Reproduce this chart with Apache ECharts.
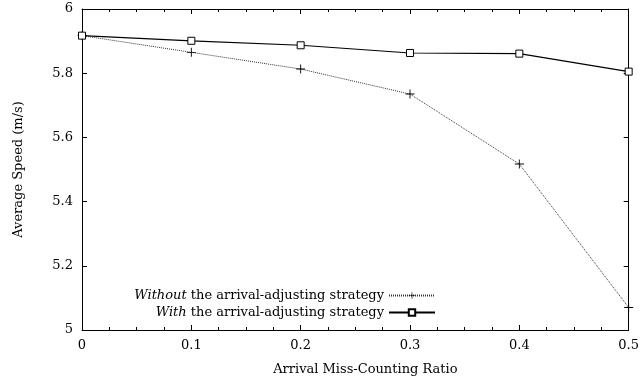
<!DOCTYPE html>
<html><head><meta charset="utf-8">
<script src="https://cdn.jsdelivr.net/npm/echarts@6/dist/echarts.min.js"></script>
<style>html,body{margin:0;padding:0;background:#fff}#c{width:642px;height:381px}</style>
</head><body><div id="c"></div>
<script>
const xValues = [0, 0.1, 0.2, 0.3, 0.4, 0.5];
const withoutVals = [5.917, 5.865, 5.813, 5.735, 5.517, 5.07];
const withVals = [5.917, 5.901, 5.887, 5.863, 5.861, 5.805];
const xTitle = 'Arrival Miss-Counting Ratio';
const yTitle = 'Average Speed (m/s)';

const FONT = 'DejaVu Serif';
const FS = 13;
const chart = echarts.init(document.getElementById('c'), null, {renderer: 'canvas'});
const plus = 'path://M4.5,0h1v10h-1zM0,4.5h10v1h-10z';
const axisCommon = {
  axisLine: {show: true, onZero: false, lineStyle: {color: '#000', width: 1}},
  axisTick: {show: true, inside: true, length: 5, lineStyle: {color: '#000'}},
  splitLine: {show: false}
};
const legendText = {fontFamily: FONT, fontSize: FS, color: '#000',
  rich: {i: {fontStyle: 'italic', fontFamily: FONT, fontSize: FS, color: '#000'}}};
chart.setOption({
  animation: false,
  textStyle: {fontFamily: FONT},
  grid: {left: 82, right: 10, top: 9, bottom: 51},
  xAxis: [
    Object.assign({}, axisCommon, {type: 'value', min: 0, max: 0.5, interval: 0.1,
      name: xTitle, nameLocation: 'middle', nameGap: 33,
      nameTextStyle: {fontFamily: FONT, fontSize: FS, color: '#000', padding: [0, 0, 0, 20]},
      minorTick: {show: true, splitNumber: 4, length: 3, lineStyle: {color: '#000'}},
      axisLabel: {fontFamily: FONT, fontSize: FS, color: '#000', margin: 9}}),
    Object.assign({}, axisCommon, {type: 'value', position: 'top', min: 0, max: 0.5, interval: 0.1,
      minorTick: {show: true, splitNumber: 4, length: 3, lineStyle: {color: '#000'}},
      axisLabel: {show: false}})
  ],
  yAxis: [
    Object.assign({}, axisCommon, {type: 'value', min: 5, max: 6, interval: 0.2,
      name: yTitle, nameLocation: 'middle', nameGap: 57, nameRotate: 90,
      nameTextStyle: {fontFamily: FONT, fontSize: FS, color: '#000'},
      axisLabel: {fontFamily: FONT, fontSize: FS, color: '#000', margin: 9}}),
    Object.assign({}, axisCommon, {type: 'value', position: 'right', min: 5, max: 6, interval: 0.2,
      axisLabel: {show: false}})
  ],
  legend: [
    {data: ['Without'], orient: 'vertical', right: 642 - 436, top: 289, align: 'right', padding: 0,
     itemWidth: 46, itemHeight: 8, itemGap: 6, selectedMode: false,
     textStyle: legendText,
     formatter: () => '{i|Without} the arrival-adjusting strategy'},
    {data: ['With'], orient: 'vertical', right: 642 - 436, top: 306, align: 'right', padding: 0,
     itemWidth: 46, itemHeight: 8, itemGap: 6, selectedMode: false,
     textStyle: legendText,
     formatter: () => '{i|With} the arrival-adjusting strategy'}
  ],
  series: [
    {name: 'Without', type: 'line', data: xValues.map((x, i) => [x, withoutVals[i]]),
     symbol: plus, symbolSize: 9,
     lineStyle: {color: '#333', width: 1, type: [1, 1]},
     itemStyle: {color: '#000'}},
    {name: 'With', type: 'line', data: xValues.map((x, i) => [x, withVals[i]]),
     symbol: 'rect', symbolSize: 7,
     lineStyle: {color: '#000', width: 1.2},
     itemStyle: {color: '#fff', borderColor: '#000', borderWidth: 1}}
  ]
});
</script></body></html>
